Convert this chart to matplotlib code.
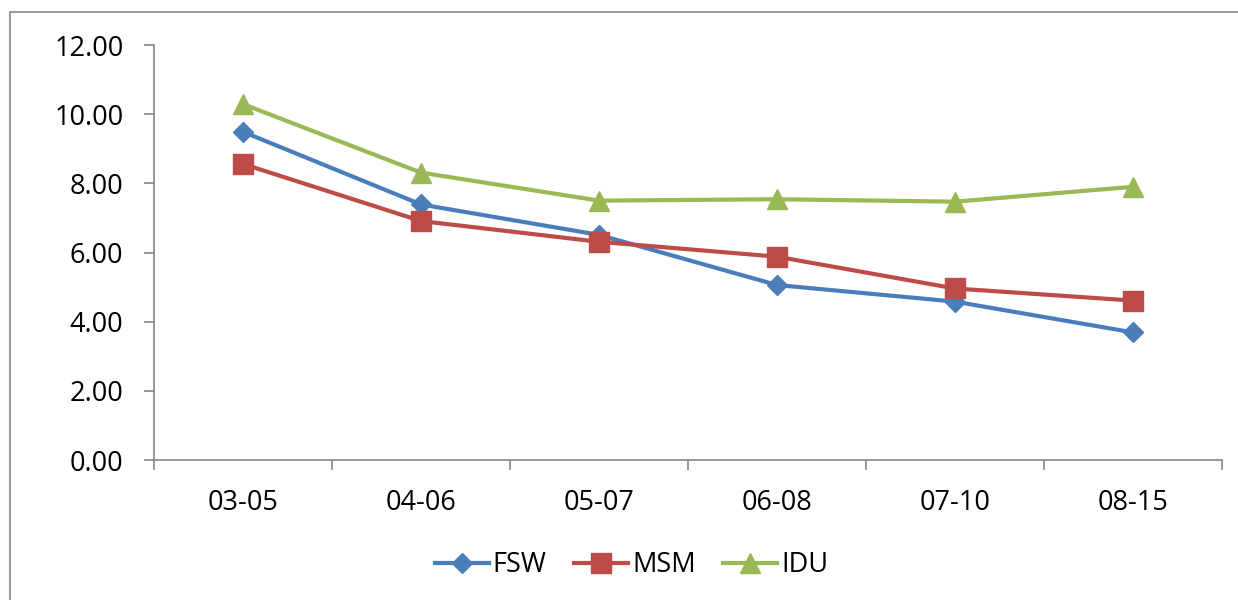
import matplotlib.pyplot as plt
from matplotlib.patches import Rectangle
from matplotlib.ticker import FormatStrFormatter

plt.rcParams['font.family'] = ['Open Sans', 'DejaVu Sans']

periods = ['03-05', '04-06', '05-07', '06-08', '07-10', '08-15']
fsw = [9.49, 7.39, 6.51, 5.06, 4.58, 3.69]
msm = [8.56, 6.91, 6.31, 5.88, 4.96, 4.61]
idu = [10.29, 8.31, 7.50, 7.54, 7.47, 7.90]

fig = plt.figure(figsize=(12.38, 6), dpi=100)
ax = fig.add_axes([0.1244, 0.2333, 0.8626, 0.6917])

# outer chart border
fig.patches.append(Rectangle((10 / 1238, -0.01), 1.1, 1 - 12 / 600 + 0.01,
                             transform=fig.transFigure, fill=False,
                             edgecolor='#868686', linewidth=1.2))

x = range(len(periods))
ax.plot(x, fsw, color='#4A7EBB', lw=3, marker='D', ms=10.5, label='FSW')
ax.plot(x, msm, color='#BE4B48', lw=3, marker='s', ms=14.5, label='MSM')
ax.plot(x, idu, color='#98B954', lw=3, marker='^', ms=15, label='IDU')

ax.set_xlim(-0.5, len(periods) - 0.5)
ax.set_ylim(0, 12)
ax.set_yticks(range(0, 13, 2))
ax.yaxis.set_major_formatter(FormatStrFormatter('%.2f'))
ax.set_xticks(list(x))
ax.set_xticklabels(periods)
ax.set_xticks([i - 0.5 for i in range(len(periods) + 1)], minor=True)

for s in ['top', 'right']:
    ax.spines[s].set_visible(False)
for s in ['left', 'bottom']:
    ax.spines[s].set_color('#868686')
    ax.spines[s].set_linewidth(1.2)

fs = 19.5
ax.tick_params(axis='y', length=7, width=1.2, color='#868686', pad=15, labelsize=fs)
ax.tick_params(axis='x', which='major', length=0, pad=21, labelsize=fs)
ax.tick_params(axis='x', which='minor', length=7, width=1.2, color='#868686')

fig.legend(loc='center', bbox_to_anchor=(0.51, 0.058), ncol=3, frameon=False,
           fontsize=fs, handlelength=2.0, handletextpad=0.15, columnspacing=1.0)

fig.savefig('out.png', dpi=100)
